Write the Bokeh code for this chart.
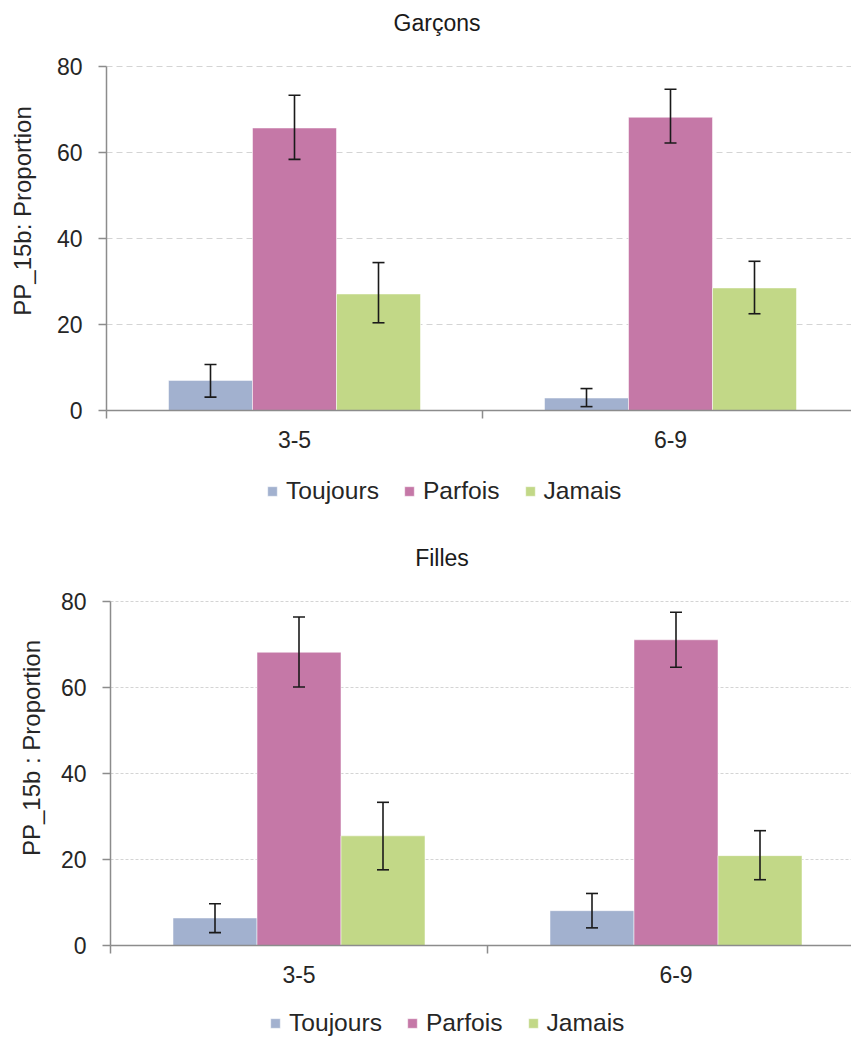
import math
from bokeh.plotting import figure
from bokeh.models import (Range1d, FixedTicker, Whisker, TeeHead, ColumnDataSource,
                          Legend, LegendItem, Label)
from bokeh.layouts import column
from bokeh.embed import file_html
from bokeh.resources import INLINE

# ---------------- data ----------------
categories = ["3-5", "6-9"]
series = ["Toujours", "Parfois", "Jamais"]
colors = ["#A2B1CF", "#C578A7", "#C2D887"]
y_ticks = [0, 20, 40, 60, 80]

# Garçons
garcons_toujours = [7.0, 2.9]
garcons_toujours_low = [3.1, 0.9]
garcons_toujours_high = [10.7, 5.1]
garcons_parfois = [65.7, 68.2]
garcons_parfois_low = [58.4, 62.2]
garcons_parfois_high = [73.3, 74.7]
garcons_jamais = [27.1, 28.5]
garcons_jamais_low = [20.4, 22.5]
garcons_jamais_high = [34.4, 34.7]

# Filles
filles_toujours = [6.4, 8.1]
filles_toujours_low = [3.0, 4.1]
filles_toujours_high = [9.7, 12.1]
filles_parfois = [68.2, 71.1]
filles_parfois_low = [60.1, 64.7]
filles_parfois_high = [76.4, 77.5]
filles_jamais = [25.5, 20.9]
filles_jamais_low = [17.6, 15.3]
filles_jamais_high = [33.3, 26.7]

FONT = "Liberation Sans, Arial, sans-serif"
AXIS_COLOR = "#8C8C8C"
TEXT_COLOR = "#262626"
FIG_W = 851
Y_MAX = 80
PLOT_PX = 344.0          # pixel height of the 0..80 span


def make_chart(title_text, title_xy, ylabel, ylabel_xy, vals, lows, highs,
               spine_x, top_px, fig_h, cat_px, legend_xy, grid_dash):
    px_per_unit = PLOT_PX / Y_MAX
    y_hi = Y_MAX + top_px / px_per_unit
    y_lo = -(fig_h - top_px - PLOT_PX) / px_per_unit
    x_lo = -spine_x / cat_px
    x_hi = (FIG_W - spine_x) / cat_px
    bar_w = 84.0 / cat_px

    p = figure(width=FIG_W, height=fig_h, x_range=Range1d(x_lo, x_hi),
               y_range=Range1d(y_lo, y_hi), output_backend="svg",
               toolbar_location=None, title=None,
               min_border_left=0, min_border_right=0,
               min_border_top=0, min_border_bottom=0)
    p.outline_line_color = None
    p.background_fill_color = "white"
    p.border_fill_color = "white"
    p.xgrid.visible = False
    p.ygrid.visible = False

    # horizontal grid lines over the plotting area only
    n = len(y_ticks)
    p.segment(x0=[0] * n, x1=[x_hi] * n, y0=y_ticks, y1=y_ticks,
              line_color="#D4D4D4", line_width=1, line_dash=grid_dash)

    items = []
    for k, name in enumerate(series):
        xs = [i + 0.5 + (k - 1) * bar_w for i in range(len(categories))]
        r = p.vbar(x=xs, top=vals[k], bottom=0, width=bar_w, fill_color=colors[k],
                   line_color="white", line_alpha=0.5, line_width=1)
        items.append(LegendItem(label=name, renderers=[r]))
        src = ColumnDataSource(dict(x=xs, upper=highs[k], lower=lows[k]))
        w = Whisker(source=src, base="x", upper="upper", lower="lower",
                    dimension="height", line_color="#1a1a1a", line_width=1.6,
                    level="overlay",
                    upper_head=TeeHead(size=12, line_color="#1a1a1a", line_width=1.6),
                    lower_head=TeeHead(size=12, line_color="#1a1a1a", line_width=1.6))
        p.add_layout(w)

    # y axis drawn at x = 0, spine only over 0..80
    ya = p.yaxis[0]
    ya.fixed_location = 0
    ya.ticker = FixedTicker(ticks=y_ticks)
    ya.bounds = (0, Y_MAX)
    ya.axis_line_color = AXIS_COLOR
    ya.axis_line_width = 1.5
    ya.major_tick_line_color = AXIS_COLOR
    ya.major_tick_line_width = 1.5
    ya.major_tick_out = 8
    ya.major_tick_in = 0
    ya.minor_tick_line_color = None
    ya.major_label_text_font = FONT
    ya.major_label_text_font_size = "23px"
    ya.major_label_text_color = TEXT_COLOR
    ya.major_label_standoff = 16

    # x axis drawn at y = 0: labels at category centres, ticks at boundaries
    xa = p.xaxis[0]
    xa.fixed_location = 0
    centres = [i + 0.5 for i in range(len(categories))]
    bounds = [float(i) for i in range(len(categories) + 1)]
    xa.ticker = FixedTicker(ticks=centres, minor_ticks=bounds)
    xa.bounds = (0, x_hi)
    xa.major_label_overrides = {c: lab for c, lab in zip(centres, categories)}
    xa.axis_line_color = AXIS_COLOR
    xa.axis_line_width = 1.5
    xa.major_tick_out = 0
    xa.major_tick_in = 0
    xa.major_tick_line_color = None
    xa.minor_tick_out = 8
    xa.minor_tick_in = 0
    xa.minor_tick_line_color = AXIS_COLOR
    xa.minor_tick_line_width = 1.5
    xa.major_label_text_font = FONT
    xa.major_label_text_font_size = "23px"
    xa.major_label_text_color = TEXT_COLOR
    xa.major_label_standoff = 12

    # chart title and y-axis title
    p.add_layout(Label(x=title_xy[0], y=fig_h - title_xy[1], x_units="screen",
                       y_units="screen", text=title_text, text_align="center",
                       text_baseline="middle", text_font=FONT,
                       text_font_size="23px", text_color="#1a1a1a"))
    p.add_layout(Label(x=ylabel_xy[0], y=fig_h - ylabel_xy[1], x_units="screen",
                       y_units="screen", text=ylabel, angle=math.pi / 2,
                       text_align="center", text_baseline="middle", text_font=FONT,
                       text_font_size="24px", text_color=TEXT_COLOR))

    legend = Legend(items=items, orientation="horizontal",
                    location=legend_xy,
                    glyph_width=12, glyph_height=12, label_standoff=8, spacing=24,
                    padding=0, margin=0, border_line_color=None,
                    background_fill_alpha=0, label_text_font=FONT,
                    label_text_font_size="24.6px", label_text_color=TEXT_COLOR)
    p.add_layout(legend)
    return p


p1 = make_chart("Garçons", (436.5, 22), "PP_15b: Proportion", (22, 210.5),
                [garcons_toujours, garcons_parfois, garcons_jamais],
                [garcons_toujours_low, garcons_parfois_low, garcons_jamais_low],
                [garcons_toujours_high, garcons_parfois_high, garcons_jamais_high],
                spine_x=106, top_px=66, fig_h=530, cat_px=376,
                legend_xy=(266, 25), grid_dash="6 4")

p2 = make_chart("Filles", (441.5, 27), "PP_15b : Proportion", (31, 217.5),
                [filles_toujours, filles_parfois, filles_jamais],
                [filles_toujours_low, filles_parfois_low, filles_jamais_low],
                [filles_toujours_high, filles_parfois_high, filles_jamais_high],
                spine_x=110, top_px=71, fig_h=508, cat_px=377,
                legend_xy=(269, 1), grid_dash="3 2")

layout = column(p1, p2, spacing=0)
open("out.html", "w").write(file_html(layout, INLINE))
